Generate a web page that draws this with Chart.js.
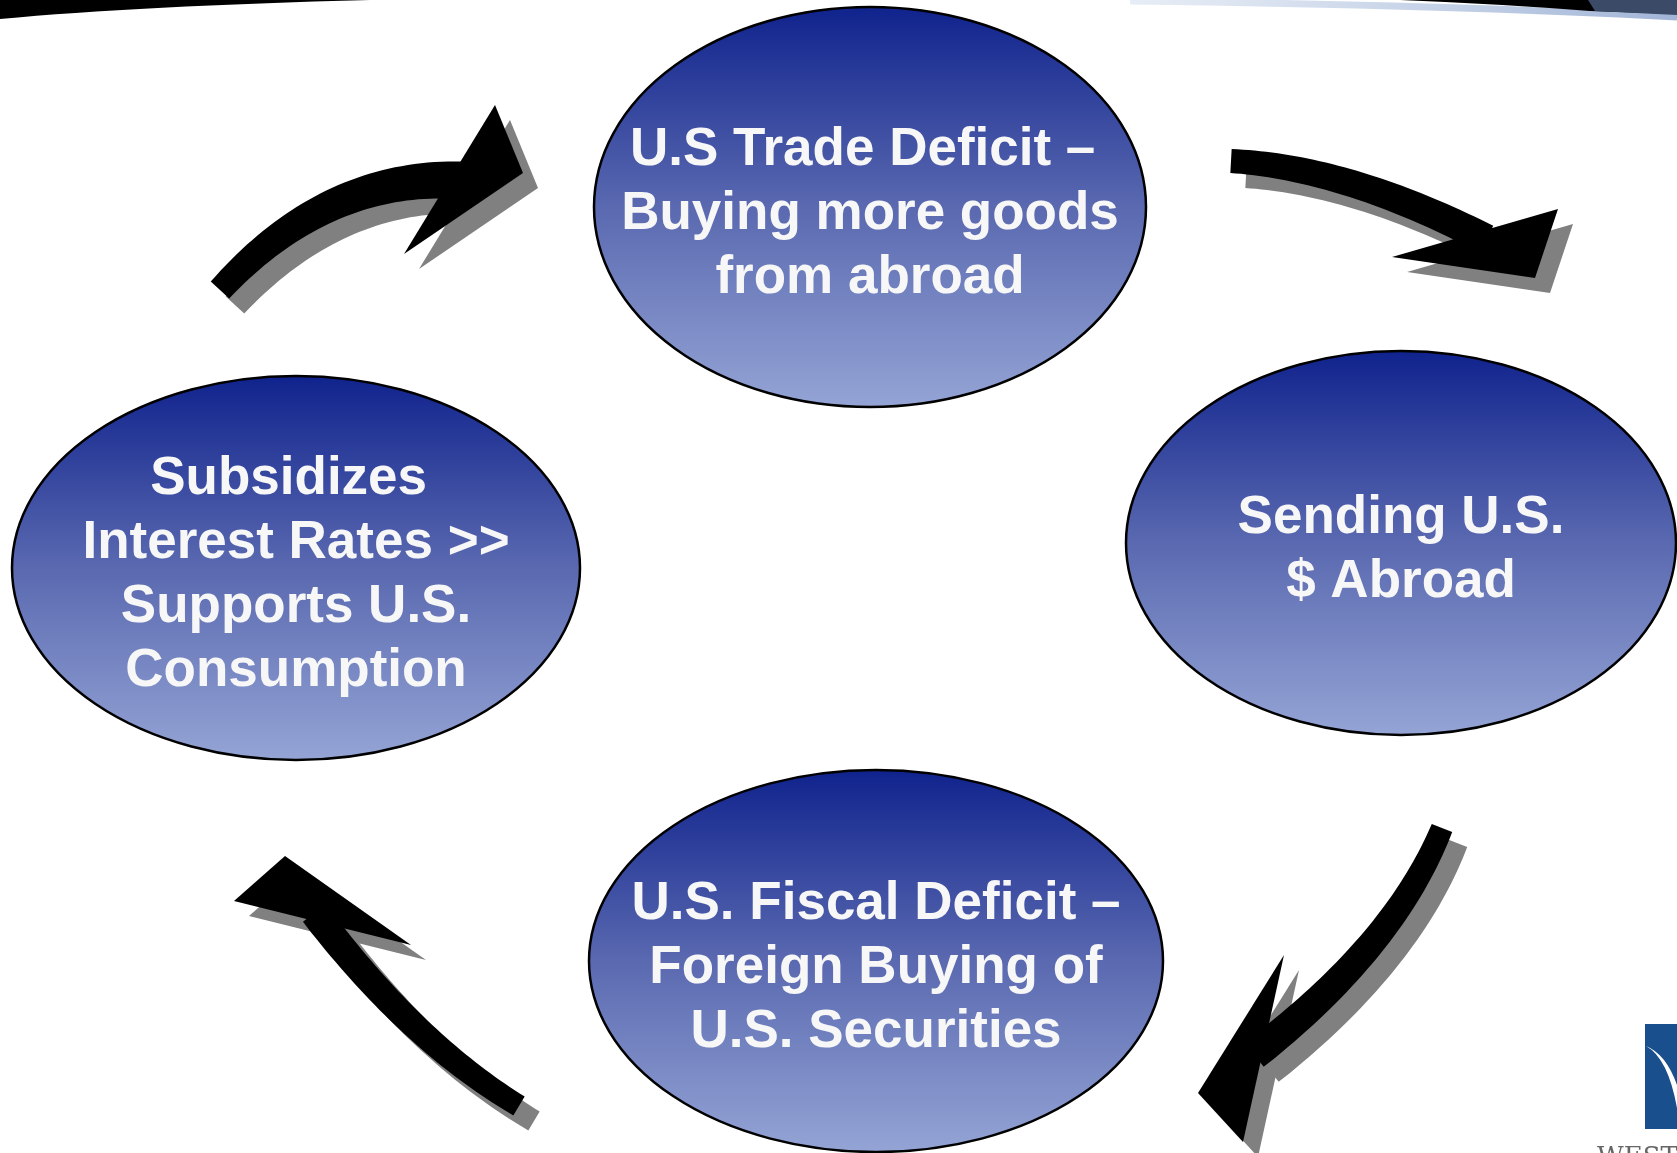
<!DOCTYPE html>
<html lang="en">
<head>
  <meta charset="UTF-8">
  <title>Trade deficit cycle</title>
  <script src="https://cdn.jsdelivr.net/npm/chart.js@4.4.1/dist/chart.umd.min.js"></script>
  <style>
    body {
      margin: 0;
      background: #fff;
      overflow: hidden;
    }
    canvas {
      display: block;
    }
  </style>
</head>
<body>
  <canvas id="cycleChart" width="1677" height="1153"></canvas>
  <script>
    // the four stages of the cycle, clockwise from the top
    const stageLines = [
      ['U.S Trade Deficit – ', 'Buying more goods', 'from abroad'],
      ['Sending U.S.', '$ Abroad'],
      ['U.S. Fiscal Deficit –', 'Foreign Buying of', 'U.S. Securities'],
      ['Subsidizes ', 'Interest Rates >>', 'Supports U.S.', 'Consumption']
    ];
    const stageX = [870, 1401, 876, 296];
    const stageY = [207, 543, 961, 568];
    const stageRadiusX = [276, 275, 287, 284];
    const stageRadiusY = [200, 192, 191, 192];

    // curved arrows between the stages (tail, bend, shaft end, head triangle)
    const arrowTail = [[220, 290], [1231, 161], [1442, 828], [519, 1106]];
    const arrowBend = [[320, 180], [1341, 167], [1396, 942], [416, 1044]];
    const arrowEnd = [[448, 180], [1474, 233], [1265, 1046], [323, 924]];
    const arrowHead = [
      [[495, 105], [523, 173], [404, 254]],
      [[1558, 209], [1535, 278], [1392, 257]],
      [[1284, 955], [1198, 1093], [1243, 1142]],
      [[285, 856], [234, 901], [411, 945]]
    ];
    const arrowTailWidth = [25, 24, 22, 22];
    const arrowHeadWidth = [37, 30, 31, 29];

    const SHADOW = 15;

    function quad(p0, p1, p2, t) {
      const u = 1 - t;
      return [u * u * p0[0] + 2 * u * t * p1[0] + t * t * p2[0],
              u * u * p0[1] + 2 * u * t * p1[1] + t * t * p2[1]];
    }

    function quadTangent(p0, p1, p2, t) {
      const dx = 2 * (1 - t) * (p1[0] - p0[0]) + 2 * t * (p2[0] - p1[0]);
      const dy = 2 * (1 - t) * (p1[1] - p0[1]) + 2 * t * (p2[1] - p1[1]);
      const len = Math.hypot(dx, dy) || 1;
      return [dx / len, dy / len];
    }

    function drawArrow(ctx, p0, p1, p2, head, w0, w1, off, color) {
      const left = [];
      const right = [];
      const steps = 40;
      for (let i = 0; i <= steps; i++) {
        const t = i / steps;
        const p = quad(p0, p1, p2, t);
        const d = quadTangent(p0, p1, p2, t);
        const half = (w0 + (w1 - w0) * t) / 2;
        left.push([p[0] - d[1] * half, p[1] + d[0] * half]);
        right.push([p[0] + d[1] * half, p[1] - d[0] * half]);
      }
      // push the shaft a little into the head so they join cleanly
      const d = quadTangent(p0, p1, p2, 1);
      const pe = [p2[0] + d[0] * 14, p2[1] + d[1] * 14];
      left.push([pe[0] - d[1] * w1 / 2, pe[1] + d[0] * w1 / 2]);
      right.push([pe[0] + d[1] * w1 / 2, pe[1] - d[0] * w1 / 2]);

      ctx.fillStyle = color;
      ctx.beginPath();
      left.forEach((p, i) => i ? ctx.lineTo(p[0] + off, p[1] + off) : ctx.moveTo(p[0] + off, p[1] + off));
      for (let i = right.length - 1; i >= 0; i--) ctx.lineTo(right[i][0] + off, right[i][1] + off);
      ctx.closePath();
      ctx.fill();

      ctx.beginPath();
      head.forEach((p, i) => i ? ctx.lineTo(p[0] + off, p[1] + off) : ctx.moveTo(p[0] + off, p[1] + off));
      ctx.closePath();
      ctx.fill();
    }

    const cyclePlugin = {
      id: 'cyclePlugin',
      beforeDraw(chart) {
        const ctx = chart.ctx;
        const { width, height } = chart;
        ctx.save();
        ctx.fillStyle = '#ffffff';
        ctx.fillRect(0, 0, width, height);

        // dark slide edge at the top
        ctx.fillStyle = '#000';
        ctx.beginPath();
        ctx.moveTo(0, 0);
        ctx.lineTo(0, 19);
        ctx.quadraticCurveTo(140, 6, 370, 0);
        ctx.closePath();
        ctx.fill();

        const g = ctx.createLinearGradient(1130, 0, 1677, 0);
        g.addColorStop(0, 'rgba(215,225,240,0.6)');
        g.addColorStop(1, 'rgba(150,172,210,0.9)');
        ctx.strokeStyle = g;
        ctx.lineWidth = 7;
        ctx.beginPath();
        ctx.moveTo(1130, 1);
        ctx.quadraticCurveTo(1450, 5, 1677, 17);
        ctx.stroke();

        ctx.fillStyle = '#000';
        ctx.beginPath();
        ctx.moveTo(1400, 0);
        ctx.quadraticCurveTo(1500, 4, 1590, 11);
        ctx.lineTo(1677, 14);
        ctx.lineTo(1677, 0);
        ctx.closePath();
        ctx.fill();
        ctx.fillStyle = '#3b4a66';
        ctx.beginPath();
        ctx.moveTo(1588, 0);
        ctx.lineTo(1677, 0);
        ctx.lineTo(1677, 15);
        ctx.lineTo(1595, 11);
        ctx.closePath();
        ctx.fill();

        // corner logo
        ctx.fillStyle = '#1a4f8e';
        ctx.fillRect(1645, 1024, 40, 105);
        ctx.fillStyle = '#ffffff';
        ctx.beginPath();
        ctx.moveTo(1646, 1046);
        ctx.quadraticCurveTo(1668, 1058, 1677, 1108);
        ctx.lineTo(1677, 1085);
        ctx.quadraticCurveTo(1666, 1054, 1646, 1046);
        ctx.fill();
        ctx.fillStyle = '#666';
        ctx.font = '26px "DejaVu Serif", serif';
        ctx.textAlign = 'left';
        ctx.textBaseline = 'alphabetic';
        ctx.fillText('WESTERN', 1597, 1165);
        ctx.restore();
      },
      afterDatasetsDraw(chart) {
        const ctx = chart.ctx;
        const xs = chart.scales.x;
        const ys = chart.scales.y;
        const px = p => [xs.getPixelForValue(p[0]), ys.getPixelForValue(p[1])];
        const unit = Math.abs(xs.getPixelForValue(1) - xs.getPixelForValue(0));

        ctx.save();
        // arrows, shadow first
        for (let pass = 0; pass < 2; pass++) {
          arrowTail.forEach((tail, i) => {
            drawArrow(ctx, px(tail), px(arrowBend[i]), px(arrowEnd[i]),
              arrowHead[i].map(px), arrowTailWidth[i] * unit, arrowHeadWidth[i] * unit,
              pass === 0 ? SHADOW : 0, pass === 0 ? '#808080' : '#000000');
          });
        }

        // stage ellipses
        const pts = chart.data.datasets[0].data;
        pts.forEach((pt, i) => {
          const cx = xs.getPixelForValue(pt.x);
          const cy = ys.getPixelForValue(pt.y);
          const rx = Math.abs(xs.getPixelForValue(pt.x + stageRadiusX[i]) - cx);
          const ry = Math.abs(ys.getPixelForValue(pt.y + stageRadiusY[i]) - cy);
          const grad = ctx.createLinearGradient(0, cy - ry, 0, cy + ry);
          grad.addColorStop(0, '#10238d');
          grad.addColorStop(0.5, '#5a69b0');
          grad.addColorStop(1, '#94a4d5');
          ctx.beginPath();
          ctx.ellipse(cx, cy, rx, ry, 0, 0, Math.PI * 2);
          ctx.fillStyle = grad;
          ctx.fill();
          ctx.lineWidth = 2.5;
          ctx.strokeStyle = '#000';
          ctx.stroke();

          const lines = stageLines[i];
          ctx.fillStyle = '#f7f7f7';
          ctx.font = 'bold 53px "Liberation Sans", Arial, sans-serif';
          ctx.textAlign = 'center';
          ctx.textBaseline = 'alphabetic';
          lines.forEach((line, j) => {
            const base = cy + 3 + (j - (lines.length - 1) / 2) * 64 + 19;
            ctx.fillText(line, cx, base);
          });
        });
        ctx.restore();
      }
    };

    new Chart(document.getElementById('cycleChart'), {
      type: 'scatter',
      data: {
        datasets: [{
          label: 'Stages',
          data: stageX.map((x, i) => ({ x: x, y: stageY[i] })),
          pointRadius: 0,
          pointHoverRadius: 0
        }]
      },
      options: {
        responsive: false,
        animation: false,
        layout: { padding: 0 },
        plugins: {
          legend: { display: false },
          tooltip: { enabled: false }
        },
        scales: {
          x: { type: 'linear', min: 0, max: 1677, display: false },
          y: { type: 'linear', min: 0, max: 1153, reverse: true, display: false }
        }
      },
      plugins: [cyclePlugin]
    });
  </script>
</body>
</html>
